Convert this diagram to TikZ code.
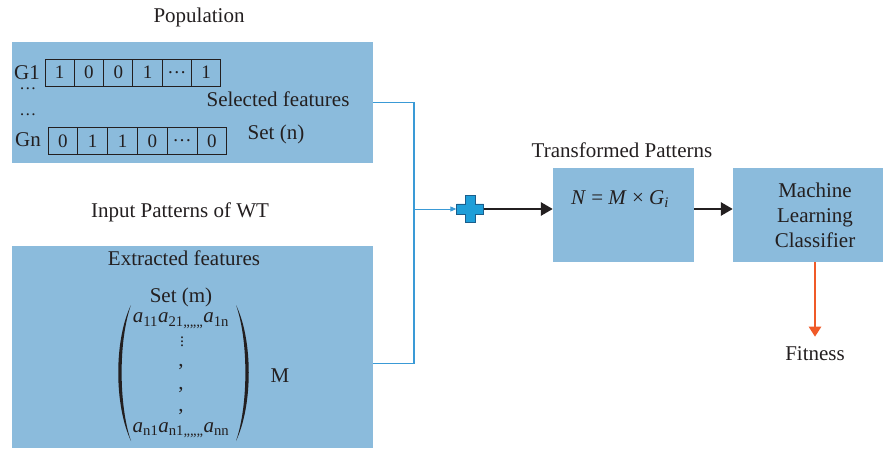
\documentclass[tikz,border=0pt]{standalone}
\usepackage{fontspec}
\setmainfont{Liberation Serif}
\usetikzlibrary{arrows.meta,calc}
\definecolor{boxblue}{HTML}{8BBBDC}
\definecolor{lineblue}{HTML}{3A9AD6}
\definecolor{plusfill}{HTML}{1E9ED8}
\definecolor{plusedge}{HTML}{1B5E8C}
\definecolor{fitorange}{HTML}{F05A28}
\definecolor{txt}{HTML}{231F20}
\begin{document}
\begin{tikzpicture}[x=1pt,y=-1pt,
  every node/.style={text=txt, font=\fontsize{21}{25}\selectfont, inner sep=0pt},
  panel/.style={fill=boxblue, draw=none, anchor=north west},
  cell/.style={draw=txt, line width=0.9pt, minimum height=27pt, font=\fontsize{19}{22}\selectfont},
  blueline/.style={draw=lineblue, line width=1.1pt},
  blackarrow/.style={draw=txt, line width=2.8pt, -{Triangle[length=12pt,width=13pt]}},
  orangearrow/.style={draw=fitorange, line width=2.2pt, -{Triangle[length=10pt,width=12pt]}}]
\useasboundingbox (0,0) rectangle (883,449);
% panels
\node[panel, minimum width=361pt, minimum height=121pt] (top) at (12,42) {};
\node[panel, minimum width=361pt, minimum height=202pt] (bot) at (12,246) {};
\node[fill=boxblue, minimum width=141pt, minimum height=94pt] (trans) at (623.5,215) {};
\node[fill=boxblue, minimum width=150pt, minimum height=94pt] (ml) at (808,215) {};
% titles
\node (poptitle) at (199,17) {Population};
\node (inptitle) at (180,212) {Input Patterns of WT};
\node (transtitle) at (622,150) {Transformed Patterns};
% top panel content
\node[text depth=0pt] (g1) at (27,73) {G1};
\node[font=\fontsize{17}{20}\selectfont] (d1) at (28,89) {\ldots};
\node[font=\fontsize{17}{20}\selectfont] (d2) at (28,115) {\ldots};
\node (gn) at (28,140) {Gn};
\foreach \v [count=\i] in {1,0,0,1,\ldots,1}
  \node[cell, minimum width=29.3pt] (ga\i) at ({45+29.3*(\i-0.5)},72.5) {\v};
\foreach \v [count=\i] in {0,1,1,0,\ldots,0}
  \node[cell, minimum width=29.8pt] (gb\i) at ({48+29.8*(\i-0.5)},141) {\v};
\node (self) at (278,99) {Selected features};
\node (setn) at (276,134) {Set (n)};
% bottom panel content
\node (extr) at (184,258) {Extracted features};
\node (setm) at (181,297) {Set (m)};
\node[text depth=0pt] (row1) at (181,318) {\textit{a}\textsubscript{11}\textit{a}\textsubscript{21,,,,,,}\textit{a}\textsubscript{1n}};
\node[font=\fontsize{16}{18}\selectfont] (vd) at (182,339) {$\vdots$};
\node (c1) at (181,367) {,};
\node (c2) at (181,390) {,};
\node (c3) at (181,412) {,};
\node (rown) at (181,430) {\textit{a}\textsubscript{n1}\textit{a}\textsubscript{n1,,,,,,}\textit{a}\textsubscript{nn}};
\fill[txt] (131,305) .. controls (114,340) and (114,405) .. (131,441)
  .. controls (118.5,405) and (118.5,340) .. (131,305) -- cycle;
\fill[txt] (236,305) .. controls (253,340) and (253,405) .. (236,441)
  .. controls (248.5,405) and (248.5,340) .. (236,305) -- cycle;
\node (mlab) at (280,376) {M};
% transformed + ML
\node (eq) at (620,199) {\textit{N} = \textit{M} × \textit{G}\textsubscript{\textit{i}}};
\node[align=center] (mltext) at (815,215) {Machine\\Learning\\Classifier};
\node (fit) at (815,354) {Fitness};
% plus
\node[minimum size=27pt] (plus) at (470,209) {};
\filldraw[fill=plusfill, draw=plusedge, line width=0.9pt]
  ($(plus.center)+(-5,-13.5)$) -- ++(10,0) -- ++(0,8.5) -- ++(8.5,0) -- ++(0,10) -- ++(-8.5,0)
  -- ++(0,8.5) -- ++(-10,0) -- ++(0,-8.5) -- ++(-8.5,0) -- ++(0,-10) -- ++(8.5,0) -- cycle;
% connectors
\coordinate (jn) at (414,209);
\draw[blueline] (top.east) -| (jn) |- ([yshift=-16pt]bot.east);
\draw[blueline, line width=0.9pt, -{Triangle[length=6pt,width=5pt]}] (jn) -- (plus.west);
\draw[blackarrow] (plus.east) -- (plus.east -| trans.west);
\draw[blackarrow] (plus.east -| trans.east) -- (plus.east -| ml.west);
\draw[orangearrow] (ml.south -| mltext) -- ([yshift=10pt]fit.north);
\end{tikzpicture}
\end{document}
